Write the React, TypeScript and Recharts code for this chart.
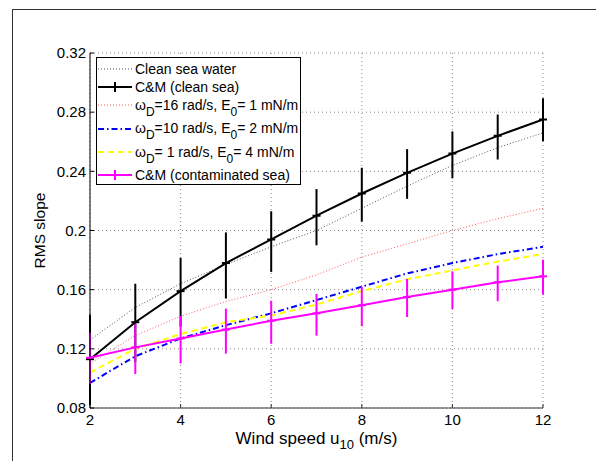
import React from 'react'
import { ComposedChart, Line, XAxis, YAxis, CartesianGrid, ErrorBar, Legend, Label } from 'recharts'

// wind speed u10 (m/s)
const windSpeed = [2, 3, 4, 5, 6, 7, 8, 9, 10, 11, 12]

// RMS slope
const cleanSeaWater = [0.126, 0.148, 0.164, 0.177, 0.189, 0.2, 0.215, 0.23, 0.244, 0.256, 0.266]
const cmClean = [0.113, 0.138, 0.159, 0.178, 0.194, 0.21, 0.225, 0.239, 0.252, 0.264, 0.275]
const cmCleanErrDown = [0.031, 0.027, 0.024, 0.024, 0.022, 0.02, 0.019, 0.0176, 0.0167, 0.016, 0.0147]
const cmCleanErrUp = [0.03, 0.026, 0.0225, 0.0207, 0.019, 0.018, 0.0174, 0.016, 0.015, 0.0144, 0.0144]
const omega16 = [0.11, 0.129, 0.142, 0.152, 0.16, 0.17, 0.182, 0.191, 0.2, 0.208, 0.215]
const omega10 = [0.097, 0.115, 0.127, 0.136, 0.144, 0.153, 0.162, 0.171, 0.178, 0.184, 0.189]
const omega1 = [0.104, 0.12, 0.13, 0.138, 0.1425, 0.15, 0.159, 0.167, 0.173, 0.179, 0.184]
const cmContam = [0.114, 0.121, 0.127, 0.133, 0.139, 0.144, 0.1495, 0.155, 0.16, 0.165, 0.169]
const cmContamErrDown = [0.018, 0.018, 0.0169, 0.0162, 0.0156, 0.0151, 0.0142, 0.0135, 0.0131, 0.0128, 0.0124]
const cmContamErrUp = [0.0169, 0.016, 0.0151, 0.0142, 0.0135, 0.0131, 0.0124, 0.0122, 0.0124, 0.0113, 0.0113]

const xTicks = [2, 4, 6, 8, 10, 12]
const yTicks = [0.08, 0.12, 0.16, 0.2, 0.24, 0.28, 0.32]

const data = windSpeed.map((u, i) => ({
  u,
  clean: cleanSeaWater[i],
  cm: cmClean[i],
  cmErr: [cmCleanErrDown[i], cmCleanErrUp[i]],
  w16: omega16[i],
  w10: omega10[i],
  w1: omega1[i],
  cmc: cmContam[i],
  cmcErr: [cmContamErrDown[i], cmContamErrUp[i]],
}))

const FONT = '"Liberation Sans", Arial, Helvetica, sans-serif'

const plusDot = (color: string) => (props: any) => {
  const { cx, cy, index } = props
  return (
    <line key={`p-${color}-${index}`} x1={cx - 4} x2={cx + 4} y1={cy} y2={cy} stroke={color} strokeWidth={2} />
  )
}

const Sub = ({ children }: { children: React.ReactNode }) => (
  <span style={{ fontSize: 12, position: 'relative', top: 6 }}>{children}</span>
)

const legendRows = [
  { y: 10.6, stroke: '#555', dash: '1 2', width: 1, plus: false, label: <>Clean sea water</> },
  { y: 29, stroke: '#000', dash: undefined, width: 2, plus: true, label: <>C&amp;M (clean sea)</> },
  {
    y: 47.3, stroke: '#ff5a5a', dash: '1 2', width: 1, plus: false,
    label: <>ω<Sub>D</Sub>=16 rad/s, E<Sub>0</Sub>= 1 mN/m</>,
  },
  {
    y: 70.6, stroke: '#0000ff', dash: '6 3 1.5 3', width: 2, plus: false,
    label: <>ω<Sub>D</Sub>=10 rad/s, E<Sub>0</Sub>= 2 mN/m</>,
  },
  {
    y: 94, stroke: '#ffff00', dash: '6 4', width: 2, plus: false,
    label: <>ω<Sub>D</Sub>= 1 rad/s, E<Sub>0</Sub>= 4 mN/m</>,
  },
  { y: 117.3, stroke: '#ff00ff', dash: undefined, width: 2, plus: true, label: <>C&amp;M (contaminated sea)</> },
]

function LegendBox() {
  return (
    <div
      style={{
        position: 'relative', width: 203, height: 126, border: '1px solid #000', background: '#fff',
        fontFamily: FONT, fontSize: 14, color: '#000',
      }}
    >
      {legendRows.map((r, i) => (
        <div key={i} style={{ position: 'absolute', left: 0, top: r.y - 9, height: 18, display: 'flex', alignItems: 'center', whiteSpace: 'nowrap' }}>
          <svg width={37} height={18} style={{ display: 'block' }}>
            <line x1={1} x2={35} y1={9} y2={9} stroke={r.stroke} strokeWidth={r.width} strokeDasharray={r.dash} />
            {r.plus && <line x1={18} x2={18} y1={4} y2={14} stroke={r.stroke} strokeWidth={2} />}
          </svg>
          <span style={{ marginLeft: 1, lineHeight: '18px' }}>{r.label}</span>
        </div>
      ))}
    </div>
  )
}

const XLabel = (props: any) => {
  const { viewBox } = props
  const cx = viewBox.x + viewBox.width / 2
  return (
    <text x={cx} y={444} textAnchor="middle" fontFamily={FONT} fontSize={17} fill="#000">
      Wind speed u<tspan fontSize={13} dy={5}>10</tspan>
      <tspan dy={-5}> (m/s)</tspan>
    </text>
  )
}

const YLabel = (props: any) => {
  const { viewBox } = props
  const cy = viewBox.y + viewBox.height / 2
  return (
    <text x={45} y={cy} transform={`rotate(-90 45 ${cy})`} textAnchor="middle" fontFamily={FONT} fontSize={15.5} fill="#000">
      RMS slope
    </text>
  )
}

export default function App() {
  return (
    <div style={{ position: 'absolute', left: 0, top: 0, width: 596, height: 461, background: '#fff' }}>
      <div
        style={{
          position: 'absolute', left: 12, top: 9, width: 600, height: 470,
          borderTop: '1.5px solid #333', borderLeft: '1.5px solid #333',
        }}
      />
      <ComposedChart
        width={596}
        height={461}
        data={data}
        margin={{ top: 53, right: 53, bottom: 8, left: 30 }}
        style={{ position: 'absolute', left: 0, top: 0 }}
      >
        <CartesianGrid stroke="#888" strokeDasharray="1 3" />
        <XAxis
          dataKey="u"
          type="number"
          domain={[2, 12]}
          ticks={xTicks}
          height={45}
          stroke="#333"
          tickSize={-4}
          tickMargin={10}
          tick={{ fontFamily: FONT, fontSize: 15, fill: '#000' }}
        >
          <Label content={XLabel} />
        </XAxis>
        <YAxis
          type="number"
          domain={[0.08, 0.32]}
          ticks={yTicks}
          width={60}
          stroke="#000"
          tickSize={-4}
          tickMargin={8}
          allowDataOverflow
          tickFormatter={(v: number) => String(Number(v.toFixed(2)))}
          tick={{ fontFamily: FONT, fontSize: 15, fill: '#000' }}
        >
          <Label content={YLabel} />
        </YAxis>
        <Line dataKey="clean" stroke="#555" strokeWidth={1} strokeDasharray="1 2" dot={false} isAnimationActive={false} />
        <Line dataKey="cm" stroke="#000" strokeWidth={2} dot={plusDot('#000')} isAnimationActive={false}>
          <ErrorBar dataKey="cmErr" width={0} stroke="#000" strokeWidth={2} direction="y" />
        </Line>
        <Line dataKey="w16" stroke="#ff5a5a" strokeWidth={1} strokeDasharray="1 2" dot={false} isAnimationActive={false} />
        <Line dataKey="w10" stroke="#0000ff" strokeWidth={2} strokeDasharray="6 3 1.5 3" dot={false} isAnimationActive={false} />
        <Line dataKey="w1" stroke="#ffff00" strokeWidth={2} strokeDasharray="6 4" dot={false} isAnimationActive={false} />
        <Line dataKey="cmc" stroke="#ff00ff" strokeWidth={2} dot={plusDot('#ff00ff')} isAnimationActive={false}>
          <ErrorBar dataKey="cmcErr" width={0} stroke="#ff00ff" strokeWidth={2} direction="y" />
        </Line>
        <Legend
          layout="vertical"
          align="center"
          verticalAlign="middle"
          content={() => <LegendBox />}
          wrapperStyle={{ left: 96, top: 57, width: 'auto', height: 'auto' }}
        />
      </ComposedChart>
    </div>
  )
}
